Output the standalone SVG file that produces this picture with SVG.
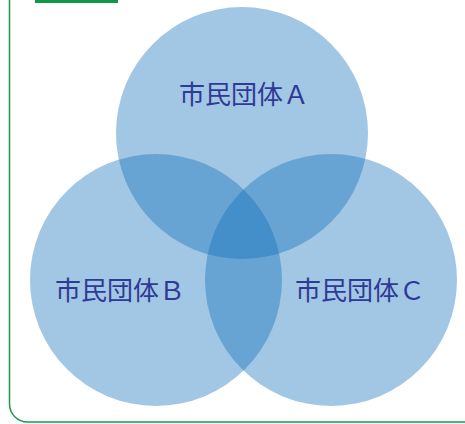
<svg xmlns="http://www.w3.org/2000/svg" width="465" height="424" viewBox="0 0 465 424">
<style>
.c{fill:rgb(10,108,184);fill-opacity:0.38}
.t{font-family:"Noto Sans CJK JP","Noto Sans",sans-serif;font-size:26px;fill:#2e3a94;text-anchor:middle}
</style>
<rect x="0" y="0" width="465" height="424" fill="#fff"/>
<g id="frame">
<rect x="9.5" y="-20" width="480" height="442" rx="18" fill="none" stroke="#1a9a4a" stroke-width="1.5"/>
<rect x="35" y="0" width="83" height="3" fill="#10984a"/>
</g>
<g id="nodeA"><circle class="c" cx="242" cy="133" r="126"/></g>
<g id="nodeB"><circle class="c" cx="156" cy="280" r="126"/></g>
<g id="nodeC"><circle class="c" cx="331" cy="280" r="126"/></g>
<g id="labels">
<text class="t" x="244" y="104">市民団体Ａ</text>
<text class="t" x="120" y="300">市民団体Ｂ</text>
<text class="t" x="360" y="300">市民団体Ｃ</text>
</g>
<g id="connectors"/>
</svg>
